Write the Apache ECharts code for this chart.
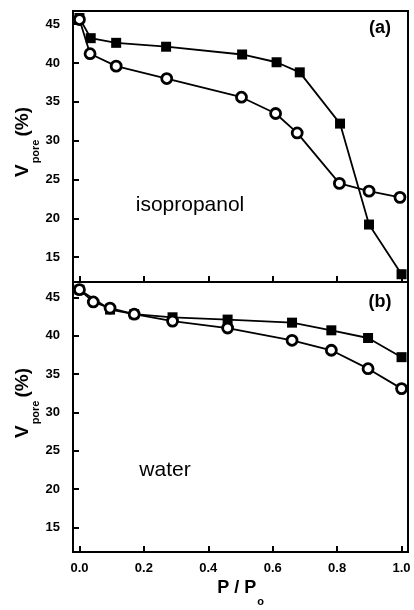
<!DOCTYPE html>
<html>
<head>
<meta charset="utf-8">
<script src="https://cdn.jsdelivr.net/npm/echarts@6/dist/echarts.min.js"></script>
<style>
  html, body { margin: 0; padding: 0; background: #fff; }
  #main { width: 414px; height: 610px; }
</style>
</head>
<body>
<div id="main"></div>
<script>
// isopropanol panel (a)
var isoSquareX = [0, 0.035, 0.114, 0.269, 0.505, 0.612, 0.684, 0.809, 0.899, 1.0];
var isoSquareY = [45.8, 43.2, 42.6, 42.1, 41.1, 40.1, 38.8, 32.2, 19.2, 12.8];
var isoCircleX = [0, 0.033, 0.114, 0.271, 0.503, 0.609, 0.676, 0.807, 0.899, 0.995];
var isoCircleY = [45.6, 41.2, 39.6, 38.0, 35.6, 33.5, 31.0, 24.5, 23.5, 22.7];

// water panel (b)
var waterSquareX = [0, 0.095, 0.17, 0.289, 0.46, 0.66, 0.782, 0.896, 1.0];
var waterSquareY = [46.0, 43.4, 42.8, 42.4, 42.1, 41.7, 40.7, 39.7, 37.2];
var waterCircleX = [0, 0.043, 0.095, 0.17, 0.289, 0.46, 0.66, 0.782, 0.896, 1.0];
var waterCircleY = [46.0, 44.4, 43.6, 42.8, 41.9, 41.0, 39.4, 38.1, 35.7, 33.1];

var xTicks = [0, 0.2, 0.4, 0.6, 0.8, 1.0];
var yTicks = [15, 20, 25, 30, 35, 40, 45];

var FONT = "'Liberation Sans', Arial, sans-serif";

function pairs(xs, ys) {
  return xs.map(function (x, i) { return [x, ys[i]]; });
}

function xAxisFor(idx, withLabels) {
  return {
    type: "value",
    gridIndex: idx,
    min: -0.02,
    max: 1.02,
    axisLine: { show: true, onZero: false, lineStyle: { color: "#000", width: 2 } },
    axisTick: { show: true, inside: true, length: 6, customValues: xTicks, lineStyle: { color: "#000", width: 2 } },
    axisLabel: {
      show: withLabels,
      customValues: xTicks,
      margin: 10,
      color: "#000",
      fontFamily: FONT,
      fontWeight: "bold",
      fontSize: 13,
      formatter: function (v) { return v.toFixed(1); }
    },
    splitLine: { show: false }
  };
}

function yAxisFor(idx, max) {
  return {
    type: "value",
    gridIndex: idx,
    min: 11.8,
    max: max,
    axisLine: { show: true, onZero: false, lineStyle: { color: "#000", width: 2 } },
    axisTick: { show: true, inside: true, length: 6, customValues: yTicks, lineStyle: { color: "#000", width: 2 } },
    axisLabel: {
      customValues: yTicks,
      margin: 13,
      color: "#000",
      fontFamily: FONT,
      fontWeight: "bold",
      fontSize: 13
    },
    splitLine: { show: false }
  };
}

function squares(idx, data) {
  return {
    type: "line",
    xAxisIndex: idx,
    yAxisIndex: idx,
    data: data,
    symbol: "rect",
    symbolSize: 10,
    lineStyle: { color: "#000", width: 1.8 },
    itemStyle: { color: "#000", borderWidth: 0 }
  };
}

function circles(idx, data) {
  return {
    type: "line",
    xAxisIndex: idx,
    yAxisIndex: idx,
    data: data,
    symbol: "circle",
    symbolSize: 10,
    lineStyle: { color: "#000", width: 1.8 },
    itemStyle: { color: "#fff", borderColor: "#000", borderWidth: 2.8 }
  };
}

var vRich = {
  m: { fontFamily: FONT, fontWeight: "bold", fontSize: 19, lineHeight: 20, verticalAlign: "top", color: "#000" },
  s: { fontFamily: FONT, fontWeight: "bold", fontSize: 11, lineHeight: 11, verticalAlign: "top", padding: [17, 3, 0, 1], color: "#000" }
};

function vLabel(x, y) {
  return {
    type: "text",
    x: x,
    y: y,
    rotation: Math.PI / 2,
    style: {
      text: "{m|V}{s|pore}{m|(%)}",
      rich: vRich,
      align: "center",
      verticalAlign: "middle"
    }
  };
}

var chart = echarts.init(document.getElementById("main"));
chart.setOption({
  animation: false,
  backgroundColor: "#fff",
  grid: [
    { left: 73, top: 11, width: 335, height: 271, show: true, borderColor: "#000", borderWidth: 2 },
    { left: 73, top: 282, width: 335, height: 270, show: true, borderColor: "#000", borderWidth: 2 }
  ],
  xAxis: [
    xAxisFor(0, false),
    Object.assign(xAxisFor(1, true), {
      name: "{m|P / P}{s|o}",
      nameLocation: "middle",
      nameGap: 27,
      nameTextStyle: {
        rich: {
          m: { fontFamily: FONT, fontWeight: "bold", fontSize: 18, lineHeight: 18, verticalAlign: "top", color: "#000" },
          s: { fontFamily: FONT, fontWeight: "bold", fontSize: 11, lineHeight: 11, verticalAlign: "top", padding: [17, 0, 0, 1], color: "#000" }
        }
      }
    })
  ],
  yAxis: [yAxisFor(0, 46.7), yAxisFor(1, 47.0)],
  series: [
    squares(0, pairs(isoSquareX, isoSquareY)),
    circles(0, pairs(isoCircleX, isoCircleY)),
    squares(1, pairs(waterSquareX, waterSquareY)),
    circles(1, pairs(waterCircleX, waterCircleY))
  ],
  graphic: [
    vLabel(23, 142),
    vLabel(23, 403),
    { type: "text", x: 190, y: 205, style: { text: "isopropanol", font: "21px " + FONT, fill: "#000", align: "center", verticalAlign: "middle" } },
    { type: "text", x: 165, y: 470, style: { text: "water", font: "21px " + FONT, fill: "#000", align: "center", verticalAlign: "middle" } },
    { type: "text", x: 380, y: 28, style: { text: "(a)", font: "bold 18px " + FONT, fill: "#000", align: "center", verticalAlign: "middle" } },
    { type: "text", x: 380, y: 302, style: { text: "(b)", font: "bold 18px " + FONT, fill: "#000", align: "center", verticalAlign: "middle" } }
  ]
});
</script>
</body>
</html>
